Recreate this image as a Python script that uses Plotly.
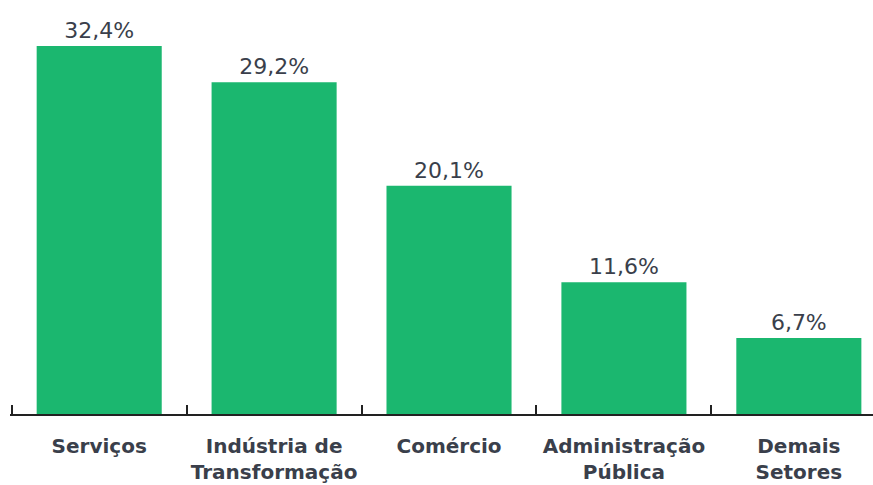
import plotly.graph_objects as go

categories = ["Serviços", "Indústria de<br>Transformação", "Comércio", "Administração<br>Pública", "Demais<br>Setores"]
values = [32.4, 29.2, 20.1, 11.6, 6.7]
labels = ["32,4%", "29,2%", "20,1%", "11,6%", "6,7%"]

fig = go.Figure(go.Bar(
    x=categories, y=values, text=labels, textposition="outside",
    marker=dict(color="#1BB76F", line=dict(width=0)),
    width=0.715,
    textfont=dict(family="DejaVu Sans", size=22, color="#3A3F4B"),
    cliponaxis=False,
    hoverinfo="skip",
))

fig.update_layout(
    width=873, height=485,
    margin=dict(l=10, r=0, t=10, b=71, autoexpand=False),
    plot_bgcolor="white", paper_bgcolor="white",
    showlegend=False,
    xaxis=dict(
        range=[-0.51, 4.424], showline=True, linecolor="#222222", linewidth=2,
        ticks="inside", tickson="boundaries", ticklen=9, tickwidth=2, tickcolor="#222222",
        tickangle=0,
        tickfont=dict(family="DejaVu Sans", size=20, color="#3A3F4B", weight="bold"),
        ticklabelstandoff=13, showgrid=False, zeroline=False, automargin=False,
    ),
    yaxis=dict(range=[0, 35.56], visible=False, showgrid=False, zeroline=False, automargin=False),
)

fig.write_html("out.html", config={"displayModeBar": False},
               post_script="document.body.style.margin='0';")
